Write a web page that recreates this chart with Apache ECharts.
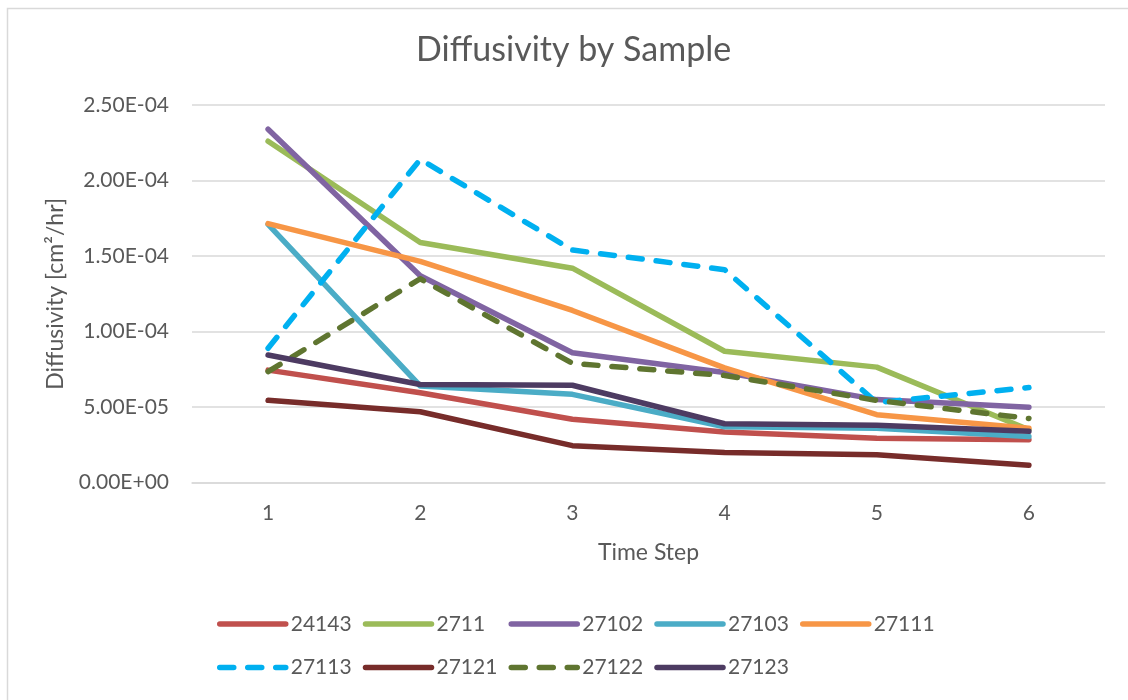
<!DOCTYPE html>
<html>
<head>
<meta charset="utf-8">
<script src="https://cdn.jsdelivr.net/npm/echarts@6/dist/echarts.min.js"></script>
<style>
  html, body { margin: 0; padding: 0; background: #ffffff; }
  #chart { width: 1128px; height: 700px; }
</style>
</head>
<body>
<div id="chart"></div>
<script>
// Time steps on the category axis
const steps = ['1', '2', '3', '4', '5', '6'];

// Diffusivity per sample, cm²/hr
const s24143 = [7.45e-5, 5.95e-5, 4.20e-5, 3.35e-5, 2.95e-5, 2.85e-5];
const s2711  = [2.26e-4, 1.59e-4, 1.42e-4, 8.70e-5, 7.65e-5, 3.50e-5];
const s27102 = [2.34e-4, 1.37e-4, 8.60e-5, 7.30e-5, 5.50e-5, 5.00e-5];
const s27103 = [1.71e-4, 6.40e-5, 5.85e-5, 3.70e-5, 3.60e-5, 3.05e-5];
const s27111 = [1.715e-4, 1.465e-4, 1.14e-4, 7.60e-5, 4.50e-5, 3.60e-5];
const s27113 = [8.90e-5, 2.14e-4, 1.54e-4, 1.41e-4, 5.30e-5, 6.30e-5];
const s27121 = [5.45e-5, 4.70e-5, 2.45e-5, 2.00e-5, 1.85e-5, 1.15e-5];
const s27122 = [7.35e-5, 1.35e-4, 7.90e-5, 7.10e-5, 5.45e-5, 4.25e-5];
const s27123 = [8.45e-5, 6.50e-5, 6.45e-5, 3.90e-5, 3.80e-5, 3.40e-5];

// Value axis tick labels, bottom to top
const yTickLabels = ['0.00E+00', '5.00E-05', '1.00E-04', '1.50E-04', '2.00E-04', '2.50E-04'];

const FONT = 'Lato';
const TEXT = '#595959';
const GRID = '#d9d9d9';
const LINE_W = 5.5;
const DASH = [14, 14];

function lineSeries(name, data, color, dashed) {
  return {
    name: name,
    type: 'line',
    data: data,
    symbol: 'none',
    showSymbol: false,
    animation: false,
    lineStyle: {
      color: color,
      width: LINE_W,
      type: dashed ? DASH : 'solid',
      cap: 'round',
      join: 'round'
    },
    itemStyle: { color: color }
  };
}

const chart = echarts.init(document.getElementById('chart'), null, { renderer: 'canvas' });

chart.setOption({
  backgroundColor: '#ffffff',
  animation: false,
  graphic: [{
    type: 'rect',
    left: 5, top: 6,
    shape: { width: 1200, height: 800 },
    style: { fill: 'none', stroke: GRID, lineWidth: 1.5 },
    silent: true,
    z: -10
  }],
  title: {
    text: 'Diffusivity by Sample',
    left: 416,
    top: 33,
    padding: 0,
    textStyle: { fontFamily: FONT, fontSize: 34, fontWeight: 'normal', color: TEXT }
  },
  grid: { left: 192, right: 23, top: 105, bottom: 217.3, containLabel: false },
  xAxis: {
    type: 'category',
    data: steps,
    boundaryGap: true,
    name: 'Time Step',
    nameLocation: 'middle',
    nameGap: 58,
    nameTextStyle: { fontFamily: FONT, fontSize: 23, color: TEXT, verticalAlign: 'top' },
    axisLine: { show: true, lineStyle: { color: GRID, width: 1.5 } },
    axisTick: { show: false },
    axisLabel: { margin: 20, fontFamily: FONT, fontSize: 21, color: TEXT },
    splitLine: { show: false }
  },
  yAxis: {
    type: 'value',
    min: 0,
    max: 2.5e-4,
    interval: 5e-5,
    name: 'Diffusivity [cm²/hr]',
    nameLocation: 'middle',
    nameGap: 125,
    nameRotate: 90,
    nameTextStyle: { fontFamily: FONT, fontSize: 23, color: TEXT },
    axisLine: { show: false },
    axisTick: { show: false },
    axisLabel: {
      margin: 23,
      fontFamily: FONT,
      fontSize: 21,
      color: TEXT,
      formatter: function (value, index) { return yTickLabels[index]; }
    },
    splitLine: { show: true, lineStyle: { color: GRID, width: 1.5 } }
  },
  legend: {
    left: 212,
    top: 602,
    width: 740,
    orient: 'horizontal',
    itemWidth: 66,
    itemHeight: 14,
    itemGap: 9.5,
    itemStyle: { opacity: 0, borderWidth: 0 },
    lineStyle: { width: LINE_W, cap: 'round' },
    textStyle: { fontFamily: FONT, fontSize: 21, color: TEXT, width: 62.5, lineHeight: 34 },
    data: ['24143', '2711', '27102', '27103', '27111', '27113', '27121', '27122', '27123']
  },
  series: [
    lineSeries('24143', s24143, '#C0504D', false),
    lineSeries('2711',  s2711,  '#9BBB59', false),
    lineSeries('27102', s27102, '#8064A2', false),
    lineSeries('27103', s27103, '#4BACC6', false),
    lineSeries('27111', s27111, '#F79646', false),
    lineSeries('27113', s27113, '#00B0F0', true),
    lineSeries('27121', s27121, '#772C2A', false),
    lineSeries('27122', s27122, '#5F7530', true),
    lineSeries('27123', s27123, '#4D3B62', false)
  ]
});
</script>
</body>
</html>
